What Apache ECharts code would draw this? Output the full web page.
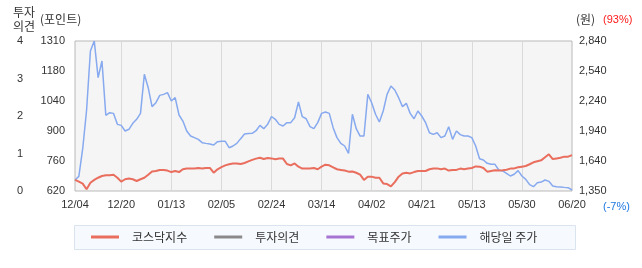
<!DOCTYPE html>
<html><head><meta charset="utf-8">
<script src="https://cdn.jsdelivr.net/npm/echarts@6/dist/echarts.min.js"></script>
<style>html,body{margin:0;padding:0;background:#fff}#c{width:642px;height:268px}</style>
</head><body><div id="c"></div>
<script>
const tickLabels = ['12/04','12/20','01/13','02/05','02/24','03/14','04/02','04/21','05/13','05/30','06/20'];
const tickIndex = [0,12,25,38,51,64,77,90,103,116,129];
const pointTicks = [620,758,896,1034,1172,1310];
const pointLabels = ['620','760','900','1040','1180','1310'];
const priceTicks = [1350,1648,1946,2244,2542,2840];
const priceLabels = ['1,350','1,640','1,940','2,240','2,540','2,840'];
const opinionTicks = [0,1,2,3,4];
const legendNames = ['코스닥지수','투자의견','목표주가','해당일 주가'];
const kosdaq = [
 671,663,654,628,658,671,681,689,692,692,
 695,681,663,674,677,674,666,674,681,695,
 710,712,717,717,714,707,712,707,720,723,
 723,723,726,723,726,726,704,720,730,738,
 743,746,747,744,749,756,763,769,773,767,
 772,770,766,769,769,744,738,747,732,723,
 723,723,726,720,732,741,738,729,720,717,
 714,709,710,704,695,671,686,686,681,681,
 655,652,641,661,686,701,704,701,707,712,
 712,712,720,723,724,720,723,714,717,717,
 723,720,723,726,733,732,726,709,712,715,
 714,715,718,723,724,729,732,735,743,752,
 757,761,775,789,767,770,773,778,778,785];
const price = [
 1459,1495,1770,2150,2740,2840,2476,2641,2102,2128,
 2121,2012,2002,1946,1963,2022,2062,2121,2509,2376,
 2188,2227,2300,2310,2327,2244,2277,2105,2045,1946,
 1896,1880,1863,1830,1823,1817,1807,1840,1843,1843,
 1780,1797,1823,1870,1916,1920,1923,1949,2002,1969,
 2012,2090,2062,2012,1996,2029,2029,2078,2234,2088,
 2068,1989,1969,2029,2121,2135,2121,1979,1880,1823,
 1797,1724,2112,1969,1896,1896,2310,2227,2112,2035,
 2145,2310,2393,2353,2277,2188,2221,2121,2068,2145,
 2095,2029,1929,1913,1929,1880,1896,1989,1863,1946,
 1910,1896,1896,1880,1797,1671,1658,1625,1615,1615,
 1559,1549,1526,1499,1516,1552,1499,1466,1413,1393,
 1433,1439,1459,1446,1400,1393,1390,1386,1383,1360];
const opinion = [];
const target = [];

const cats = kosdaq.map((_, i) => String(i));
const tickSet = new Set(tickIndex);
const labelAt = {}; tickIndex.forEach((t, k) => labelAt[t] = tickLabels[k]);
const FONT = 'Liberation Sans, Noto Sans CJK KR, sans-serif';
const KFONT = 'Noto Sans CJK KR, sans-serif';
const lab = {color:'#333', fontSize:11, fontFamily:FONT};

const chart = echarts.init(document.getElementById('c'), null, {renderer:'canvas'});
chart.setOption({
  animation:false,
  grid:{left:75, right:70, top:41, bottom:77, show:true, backgroundColor:'#f5f5f5', borderColor:'#b9b9b9', borderWidth:1},
  xAxis:{type:'category', data:cats, boundaryGap:false,
    axisLine:{show:false}, axisTick:{show:false},
    axisLabel:Object.assign({}, lab, {interval:(i)=>tickSet.has(i), formatter:(v, i)=>labelAt[i] || '', margin:8, showMaxLabel:true, showMinLabel:true}),
    splitLine:{show:true, interval:(i)=>tickSet.has(i) && i!==0 && i!==129, lineStyle:{color:'#dadada', width:1}}},
  yAxis:[
    {type:'value', position:'left', min:620, max:1310, interval:138,
     axisLine:{show:false}, axisTick:{show:false}, splitLine:{show:false},
     axisLabel:Object.assign({}, lab, {margin:10, customValues:pointTicks,
       formatter:(v)=>pointLabels[Math.round((v-620)/138)]})},
    {type:'value', position:'right', min:1350, max:2840, interval:298,
     axisLine:{show:false}, axisTick:{show:false}, splitLine:{show:false},
     axisLabel:Object.assign({}, lab, {margin:7, customValues:priceTicks,
       formatter:(v)=>priceLabels[Math.round((v-1350)/298)]})},
    {type:'value', position:'left', offset:42, min:0, max:4, interval:1,
     axisLine:{show:false}, axisTick:{show:false}, splitLine:{show:false},
     axisLabel:Object.assign({}, lab, {margin:10, customValues:opinionTicks})}
  ],
  legend:{left:91, top:231, padding:0, itemGap:27, itemWidth:28, itemHeight:3, icon:'rect',
    data:legendNames,
    textStyle:{color:'#333', fontSize:12, fontFamily:KFONT, padding:[0,0,0,8]}},
  series:[
    {name:legendNames[0], type:'line', yAxisIndex:0, data:kosdaq, showSymbol:false, color:'#e96e5e', lineStyle:{width:2, color:'#e96e5e'}, z:3},
    {name:legendNames[1], type:'line', yAxisIndex:2, data:opinion, showSymbol:false, color:'#8a8a8a'},
    {name:legendNames[2], type:'line', yAxisIndex:1, data:target, showSymbol:false, color:'#a874d4'},
    {name:legendNames[3], type:'line', yAxisIndex:1, data:price, showSymbol:false, color:'#86a9ef', lineStyle:{width:1.5, color:'#86a9ef'}, z:2}
  ],
  graphic:[
    {type:'rect', z:-10, shape:{x:74.5, y:225.5, width:501, height:24}, style:{fill:'#f6f9fd', stroke:'#d9e4ee', lineWidth:1}},
    {type:'text', x:13, y:5, style:{text:'투자\n의견', font:'12px "Noto Sans CJK KR"', fill:'#333', lineHeight:14}},
    {type:'text', x:40, y:13, style:{text:'(포인트)', font:'12px "Noto Sans CJK KR"', fill:'#333'}},
    {type:'text', x:576, y:13, style:{text:'(원)', font:'12px "Noto Sans CJK KR"', fill:'#333'}},
    {type:'text', x:603, y:14, style:{text:'(93%)', font:'11px "Liberation Sans"', fill:'#ff1a1a'}},
    {type:'text', x:603, y:201, style:{text:'(-7%)', font:'11px "Liberation Sans"', fill:'#1f78e0'}}
  ]
});
</script></body></html>
